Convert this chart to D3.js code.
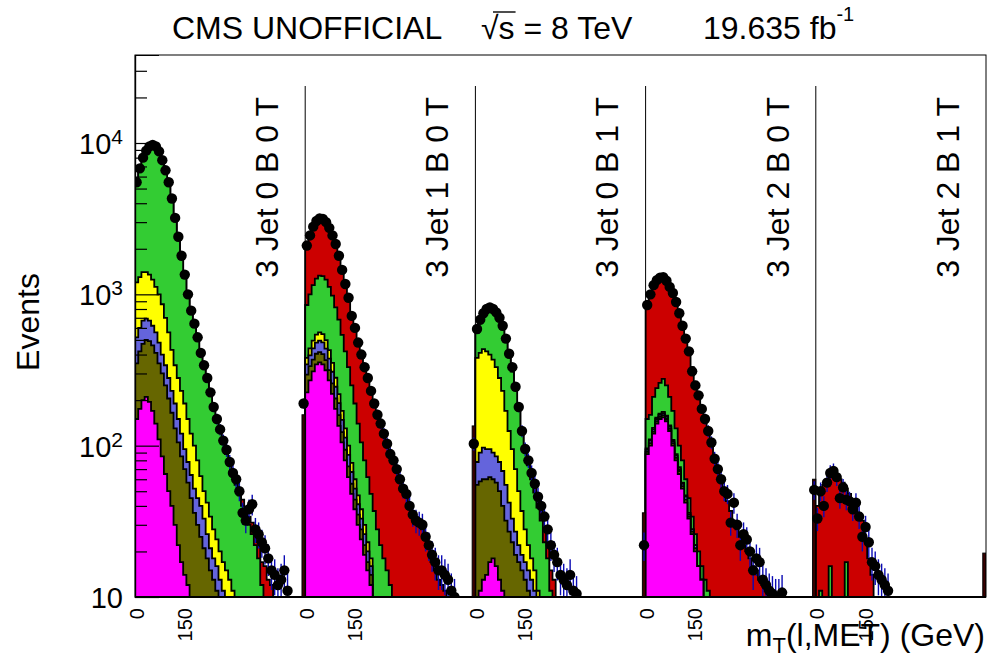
<!DOCTYPE html>
<html>
<head>
<meta charset="utf-8">
<script src="https://cdn.jsdelivr.net/npm/d3@7"></script>
<style>
  body { margin: 0; background: #fff; }
  text { font-family: "Liberation Sans", Arial, Helvetica, sans-serif; fill: #000; }
</style>
</head>
<body>
<svg id="chart" width="990" height="670"></svg>
<script>
// ---- categories and binning ----
const panelLabels = ["3 Jet 0 B 0 T", "3 Jet 1 B 0 T", "3 Jet 0 B 1 T", "3 Jet 2 B 0 T", "3 Jet 2 B 1 T"];
const binWidthGeV = 10;
const binsPerPanel = 53;
const xTickValues = [0, 150];          // GeV, repeated in every panel
const xTickLabels = ["0", "150"];
const yMajorExponents = [1, 2, 3, 4];

// ---- observed events per 10 GeV bin, one list per panel ----
const dataCounts = [
  [5500,6800,8000,8900,9500,9700,9500,8800,7700,6600,5500,4300,3200,2400,1800,1350,1000,780,640,520,410,340,280,225,180,150,128,108,94,78,66,60,50,36,32,38,41,28,26,23,21,18,15,14,12,13,15,11],
  [2100,2450,2800,3050,3170,3150,3000,2750,2450,2150,1800,1450,1170,950,720,600,480,400,330,280,230,190,160,140,120,103,88,80,70,60,52,48,40,35,32,31,30,25,22,19,17,15,15,14,13,11,10],
  [590,680,750,800,820,800,760,700,620,510,405,330,245,180,125,95,80,66,56,46,40,34,28,22,19,17,14,13,12,14,11,10.5],
  [850,1000,1150,1240,1290,1300,1230,1120,1020,890,750,620,510,420,310,250,215,175,150,125,105,82,70,60,50,48,31,42,30,22,26,24,20,15,18,17,13,12,11,10.5,10,10,10.7],
  [33,50,40,57,66,68,62,45,53,44,43,38,42,34,25,29,23,17,16,14,13,12,11]
];

// ---- simulated contributions (stacked bottom to top), one list per panel ----
const magenta = [
  [150,175,200,210,195,170,140,110,85,65,50,40,30,22,17,14,12,10,8,6,5,4,3,2,2,1,1,1],
  [225,270,310,345,355,345,315,270,220,175,135,105,80,62,48,38,30,24,19,15,12,10,8,6,5,4,3],
  [8,11,13,14,17,18,16,13,11,9,6,4,3,2,1],
  [88,100,120,140,150,154,145,125,100,80,65,52,42,33,26,20,16,13,10,8,6],
  []
];
const olive = [
  [200,245,270,290,295,290,270,240,215,185,155,125,100,83,68,56,45,35,28,24,20,17,15,13,11,10,9,7,7,6,5,4,4,3,3],
  [70,65,60,60,60,58,53,46,38,30,24,18,14,11,8,6,5,4,3,2,2],
  [47,47,47,46,45,42,41,37,29,23,21,19,16,15,14,13,11,10,8,6,5,4,3],
  [3,4,4,5,5,5,5,4,4,3,3,2,2,1,1,1],
  []
];
const slate = [
  [170,180,200,190,180,160,150,130,100,90,75,65,60,45,35,25,21,19,16,15,15,12,8,6,5,5,3,3,3,2,2,2,1,1,1],
  [50,60,70,75,80,78,70,60,50,40,32,25,19,14,11,8,6,5,4,3,2],
  [23,32,37,35,33,30,28,28,28,23,15,10,8,5,4,4,4,3,3,3,3],
  [3,4,4,5,5,5,5,4,3,3,2,2,2,1,1,1],
  []
];
const yellow = [
  [680,700,730,710,680,630,560,520,460,360,280,200,150,130,110,95,72,56,48,35,23,17,16,13,10,8,7,6,5,5,4,4,5,5,4,7,6,5,4,3],
  [35,45,55,62,66,65,60,52,44,36,28,22,17,13,10,8,6,5,4,3,2],
  [302,320,338,325,305,280,245,202,162,115,83,62,43,28,18,11,7,5,4,2,2,2,2,2,2,1],
  [2,2,3,3,3,3,3,3,2,2,2,1,1,1],
  []
];
const green = [
  [4200,5400,6500,7400,8050,8350,8280,7700,6840,5900,4840,3870,2860,2120,1570,1160,850,660,530,430,347,285,233,188,152,124,104,87,73,62,53,45,37,31,27,23,20,17,14,9,10,8,7,6,5,4,3,3],
  [470,560,655,728,769,774,752,692,628,539,461,370,290,230,173,130,93,67,50,39,30,27,20,16,13,11,9,8,7,6,5,4,3,3,3,2,2,2,2],
  [175,234,277,340,380,398,398,388,358,318,263,214,165,121,85,65,52,42,34,28,22,17,13,9,7,6,5,4,4,3,3],
  [54,50,79,87,97,109,92,74,61,42,28,23,13,9,6,4,4,3,3,3,3,3,3,3,2,2,2,2,2,2,2,2,2,2,2,1,1,1,1,1,1,1],
  [2,11,3,2,16,3,3,4,3,17,3,2,2,1,1]
];
const red = [
  [0,0,0,0,0,0,0,0,0,0,0,0,0,0,0,0,5,5,6,6,6,7,7,7,6,6,5,5,5,5,4,4,4,4,4,4,5,6,5,5,6,5,5,4,3,3,3,3],
  [1250,1450,1650,1780,1840,1830,1750,1630,1470,1330,1120,910,750,620,470,410,340,295,250,218,182,153,132,118,102,88,76,70,61,53,46,43,37,32,30,28,26,22,19,17,15,13,12,11,10,9,8],
  [5,6,8,10,10,12,12,12,12,12,12,11,10,9,8,7,6,5,5,5,5,5,4,4,4,3,3,3,3,3,3],
  [680,830,930,1000,1030,1014,980,920,840,750,650,540,450,365,296,239,195,159,132,109,91,80,67,56,47,41,35,30,26,23,20,18,16,14,13,12,11,10,9,9,8,7,6],
  [38,37,52,58,47,61,59,56,54,35,45,42,38,35,31,24,18,14,10,8,6,5]
];
// last bin of each panel (collected overflow)
const overflowMC = [160, 135, 36, 60, 19.5];
const overflowData = [190, 103, 22, 51, null];

// ---- layout ----
const W = 990, H = 670;
const L = 135, R = 986, T = 55, B = 597;
const nBins = panelLabels.length * binsPerPanel;

const svg = d3.select("#chart");
svg.append("rect").attr("width", W).attr("height", H).attr("fill", "#fff");

const x = d3.scaleLinear().domain([0, nBins]).range([L, R]);
const y = d3.scaleLog().domain([10, 38150]).range([B, T]);

svg.append("defs").append("clipPath").attr("id", "plotClip")
  .append("rect").attr("x", L).attr("y", T).attr("width", R - L).attr("height", B - T);

// ---- stacked histogram ----
const keys = ["magenta", "olive", "slate", "yellow", "green", "red"];
const colors = {
  magenta: "#ff00ff", olive: "#666600", slate: "#6464dc",
  yellow: "#ffff00", green: "#33cc33", red: "#cc0000"
};
const seriesByKey = { magenta, olive, slate, yellow, green, red };

const rows = d3.range(nBins).map(g => {
  const p = Math.floor(g / binsPerPanel), b = g % binsPerPanel;
  const row = { bin: g };
  keys.forEach(k => { row[k] = seriesByKey[k][p][b] || 0; });
  return row;
});
const stacked = d3.stack().keys(keys)(rows);

const floorY = B + 12;
const yPix = v => (v > 0 ? Math.min(y(v), floorY) : floorY);

const stepArea = d3.area()
  .x(d => x(d.bin))
  .y0(floorY)
  .y1(d => yPix(d.top))
  .curve(d3.curveStepAfter);

const plot = svg.append("g").attr("clip-path", "url(#plotClip)");

// cumulative histograms drawn from the top of the stack downwards
for (let i = stacked.length - 1; i >= 0; i--) {
  const layer = stacked[i];
  const pts = layer.map((d, j) => ({ bin: j, top: d[1] }));
  pts.push({ bin: nBins, top: layer[nBins - 1][1] });
  plot.append("path")
    .attr("d", stepArea(pts))
    .attr("fill", colors[keys[i]])
    .attr("stroke", "#000")
    .attr("stroke-width", 1.8);
}

// overflow bins
overflowMC.forEach((v, p) => {
  const g = p * binsPerPanel + binsPerPanel - 1;
  plot.append("rect")
    .attr("x", x(g)).attr("width", x(g + 1) - x(g))
    .attr("y", y(v)).attr("height", floorY - y(v))
    .attr("fill", "#3a0000").attr("stroke", "#000").attr("stroke-width", 1);
});

// ---- data points ----
const points = [];
dataCounts.forEach((arr, p) => arr.forEach((v, b) => {
  if (v > 0) points.push({ g: p * binsPerPanel + b, v });
}));
overflowData.forEach((v, p) => {
  if (v) points.push({ g: p * binsPerPanel + binsPerPanel - 1, v });
});

plot.selectAll("line.err").data(points).join("line")
  .attr("class", "err")
  .attr("x1", d => x(d.g + 0.5)).attr("x2", d => x(d.g + 0.5))
  .attr("y1", d => yPix(d.v + Math.sqrt(d.v)))
  .attr("y2", d => yPix(Math.max(d.v - Math.sqrt(d.v), 0.5)))
  .attr("stroke", "#0a0ab4").attr("stroke-width", 1.4);

plot.selectAll("circle.pt").data(points).join("circle")
  .attr("class", "pt")
  .attr("cx", d => x(d.g + 0.5)).attr("cy", d => y(d.v))
  .attr("r", 5.2).attr("fill", "#000");

// ---- panel separators and labels ----
d3.range(1, panelLabels.length).forEach(p => {
  svg.append("line")
    .attr("x1", x(p * binsPerPanel)).attr("x2", x(p * binsPerPanel))
    .attr("y1", 86).attr("y2", B)
    .attr("stroke", "#000").attr("stroke-width", 1);
});
panelLabels.forEach((lab, p) => {
  const px = x(p * binsPerPanel) + 143;
  svg.append("text")
    .attr("transform", `translate(${px},97) rotate(-90)`)
    .attr("text-anchor", "end")
    .attr("font-size", 32)
    .text(lab);
});

// ---- frame and axes ----
svg.append("rect")
  .attr("x", L).attr("y", T).attr("width", R - L).attr("height", B - T)
  .attr("fill", "none").attr("stroke", "#000").attr("stroke-width", 1);
svg.append("line").attr("x1", L).attr("x2", R).attr("y1", B).attr("y2", B)
  .attr("stroke", "#000").attr("stroke-width", 2.2);

const majorTicks = yMajorExponents.map(e => Math.pow(10, e));
const minorTicks = [];
yMajorExponents.forEach(e => d3.range(2, 10).forEach(m => {
  const v = m * Math.pow(10, e);
  if (v < y.domain()[1]) minorTicks.push(v);
}));

const axMajor = svg.append("g").attr("transform", `translate(${L},0)`)
  .call(d3.axisRight(y).tickValues(majorTicks).tickSize(24).tickFormat(""));
const axMinor = svg.append("g").attr("transform", `translate(${L},0)`)
  .call(d3.axisRight(y).tickValues(minorTicks).tickSize(12).tickFormat(""));
[axMajor, axMinor].forEach(a => {
  a.select(".domain").attr("stroke", "#000").attr("stroke-width", 1.2);
  a.selectAll(".tick line").attr("stroke", "#000").attr("stroke-width", 1.2);
});

// y tick labels with superscript exponents
yMajorExponents.forEach(e => {
  const t = svg.append("text")
    .attr("x", 123).attr("y", y(Math.pow(10, e)) + 11)
    .attr("text-anchor", "end").attr("font-size", 29);
  t.append("tspan").text("10");
  if (e > 1) t.append("tspan").attr("font-size", 21).attr("dy", -10).text(String(e));
});

// x tick labels, vertical, repeated in each panel
panelLabels.forEach((_, p) => {
  xTickValues.forEach((v, i) => {
    const xc = x(p * binsPerPanel + v / binWidthGeV + 0.5);
    svg.append("text")
      .attr("transform", `translate(${xc + 7},608) rotate(-90)`)
      .attr("text-anchor", "end")
      .attr("font-size", 20)
      .text(xTickLabels[i]);
  });
});

// axis titles
svg.append("text")
  .attr("transform", "translate(39,322) rotate(-90)")
  .attr("text-anchor", "middle").attr("font-size", 32)
  .text("Events");

const xt = svg.append("text")
  .attr("x", 985).attr("y", 646)
  .attr("text-anchor", "end").attr("font-size", 32);
xt.append("tspan").text("m");
xt.append("tspan").attr("font-size", 22).attr("dy", 7).text("T");
xt.append("tspan").attr("dy", -7).text("(l,MET) (GeV)");

// ---- header ----
svg.append("text").attr("x", 172).attr("y", 39).attr("font-size", 32).text("CMS UNOFFICIAL");
const rs = svg.append("text").attr("x", 481).attr("y", 39).attr("font-size", 32);
rs.append("tspan").text("\u221A");
rs.append("tspan").text("s = 8 TeV");
{
  const node = rs.node();
  const s1 = node.getEndPositionOfChar(1).x;
  const r0 = node.getStartPositionOfChar(0).x;
  svg.append("line").attr("x1", r0 + 12).attr("x2", s1 + 1)
    .attr("y1", 12).attr("y2", 12)
    .attr("stroke", "#000").attr("stroke-width", 1.4);
}
const lumi = svg.append("text").attr("x", 703).attr("y", 39).attr("font-size", 32);
lumi.append("tspan").text("19.635 fb");
lumi.append("tspan").attr("font-size", 20).attr("dy", -18).text("-1");
</script>
</body>
</html>
